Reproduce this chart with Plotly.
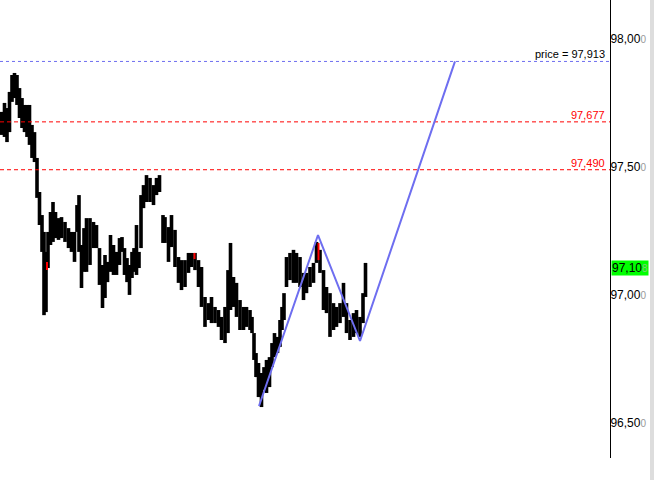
import plotly.graph_objects as go

# ---- price data (bar position, high, low) ----
bar_x = [1.5, 4.5, 7, 9.5, 12, 14.5, 17, 19.5, 22, 24.5, 27, 29.5, 32, 34.5, 37, 39.5, 42, 44, 46, 48,
         50.5, 53, 55.5, 58.5, 61.5, 65, 68.5, 71.5, 74.5, 77, 79, 81.5, 84, 86.5, 90, 93.5, 96.5, 99.5,
         102.5, 105, 107.5, 110.5, 113.5, 116.5, 119.5, 122, 124.5, 127, 129.5, 132, 134, 136.5, 139,
         141, 143.5, 146.5, 150, 153.5, 156.5, 159.5, 163, 165, 168.5, 171.5, 175, 178.5, 181.5, 185,
         188.5, 191.5, 195, 198.5, 201.5, 205, 208.5, 211.5, 215, 218.5, 221.5, 225, 228, 230.5, 233.5,
         236.5, 240, 243.5, 246.5, 250, 252, 254, 256, 258.5, 261.5, 264, 266.5, 269.5, 272, 274.5,
         277.5, 280, 282, 284, 286.5, 290, 293.5, 296.5, 300, 303.5, 306.5, 310, 313.5, 316.5, 320,
         323.5, 326.5, 330, 333.5, 336.5, 340, 343.5, 346.5, 350, 353.5, 356.5, 360, 363, 365.5]
bar_high = [97.716, 97.751, 97.731, 97.794, 97.860, 97.868, 97.860, 97.809, 97.770, 97.743, 97.743, 97.743,
            97.665, 97.637, 97.536, 97.403, 97.313, 97.247, 97.169, 97.247, 97.325, 97.364, 97.325,
            97.301, 97.305, 97.286, 97.262, 97.247, 97.247, 97.352, 97.391, 97.196, 97.262, 97.301,
            97.301, 97.286, 97.274, 97.184, 97.118, 97.157, 97.130, 97.235, 97.196, 97.169, 97.223,
            97.227, 97.184, 97.145, 97.118, 97.169, 97.184, 97.274, 97.169, 97.391, 97.430, 97.469,
            97.458, 97.430, 97.458, 97.469, 97.313, 97.305, 97.266, 97.313, 97.255, 97.149, 97.137,
            97.137, 97.165, 97.165, 97.165, 97.137, 97.110, 96.993, 96.969, 96.993, 96.954, 96.942,
            96.915, 96.954, 97.098, 97.204, 97.071, 97.048, 96.981, 96.954, 96.954, 96.942, 96.915,
            96.852, 96.774, 96.735, 96.696, 96.719, 96.747, 96.758, 96.813, 96.852, 96.837, 96.903,
            96.954, 97.008, 97.149, 97.165, 97.177, 97.165, 97.149, 97.087, 97.087, 97.110, 97.126,
            97.208, 97.177, 97.098, 97.032, 97.008, 96.969, 96.954, 96.969, 97.048, 96.969, 96.903,
            96.930, 96.942, 96.915, 97.008, 97.126]
bar_low = [97.626, 97.618, 97.598, 97.637, 97.755, 97.770, 97.743, 97.692, 97.653, 97.637, 97.618, 97.587,
           97.536, 97.520, 97.380, 97.274, 97.169, 96.922, 96.934, 97.106, 97.196, 97.208, 97.223,
           97.216, 97.223, 97.208, 97.184, 97.169, 97.130, 97.247, 97.169, 97.028, 97.091, 97.091,
           97.118, 97.184, 97.184, 97.040, 96.950, 96.989, 97.051, 97.091, 97.079, 97.079, 97.118,
           97.169, 97.079, 97.051, 97.001, 97.067, 97.091, 97.079, 97.106, 97.184, 97.340, 97.364,
           97.364, 97.352, 97.391, 97.403, 97.204, 97.204, 97.130, 97.188, 97.110, 97.048, 97.020,
           97.032, 97.087, 97.110, 97.098, 97.032, 96.954, 96.876, 96.903, 96.891, 96.891, 96.876,
           96.825, 96.813, 96.852, 96.942, 96.954, 96.915, 96.864, 96.864, 96.876, 96.864, 96.852,
           96.747, 96.680, 96.602, 96.563, 96.630, 96.618, 96.641, 96.719, 96.758, 96.774, 96.798,
           96.864, 96.903, 97.032, 97.059, 97.048, 97.048, 97.032, 96.981, 97.008, 97.032, 97.048,
           97.126, 97.087, 96.942, 96.930, 96.837, 96.864, 96.876, 96.891, 96.915, 96.852, 96.825,
           96.837, 96.852, 96.837, 96.891, 96.993]

# small red markers
red_x = [47, 194.5, 318.5]
red_high = [97.130, 97.165, 97.204]
red_low = [97.098, 97.141, 97.137]

# zigzag pattern
zz_x = [259, 318, 360, 455]
zz_price = [96.567, 97.235, 96.821, 97.913]

# horizontal levels
level_price = 97.913
red_levels = [97.677, 97.490]
red_level_labels = ["97,677", "97,490"]

# axis ticks
tick_vals = [96.5, 97.0, 97.5, 98.0]
tick_main = ["96,50", "97,00", "97,50", "98,00"]
last_price = 97.108
last_label = "97,10"

X_MAX = 610
Y_MIN, Y_MAX = 96.364, 98.153
FONT = "Liberation Sans, Arial, sans-serif"
BLUE = "rgb(110,110,240)"


def segs(xs, hi, lo):
    sx, sy = [], []
    for x, h, l in zip(xs, hi, lo):
        sx += [x, x, None]
        sy += [l, h, None]
    return sx, sy


fig = go.Figure()

px_, py_ = segs(bar_x, bar_high, bar_low)
fig.add_trace(go.Scatter(x=px_, y=py_, mode="lines", line=dict(color="black", width=3.6),
                         hoverinfo="skip", showlegend=False))
rx, ry = segs(red_x, red_high, red_low)
fig.add_trace(go.Scatter(x=rx, y=ry, mode="lines", line=dict(color="red", width=2),
                         hoverinfo="skip", showlegend=False))

# horizontal level lines
fig.add_trace(go.Scatter(x=[0, X_MAX], y=[level_price, level_price], mode="lines",
                         line=dict(color=BLUE, width=1, dash="3px,3px"),
                         hoverinfo="skip", showlegend=False))
for lv in red_levels:
    fig.add_trace(go.Scatter(x=[0, X_MAX], y=[lv, lv], mode="lines",
                             line=dict(color="red", width=1, dash="4px,3px"),
                             hoverinfo="skip", showlegend=False))

fig.add_trace(go.Scatter(x=zz_x, y=zz_price, mode="lines",
                         line=dict(color=BLUE, width=2),
                         hoverinfo="skip", showlegend=False))

ann = []
ann.append(dict(x=607, y=level_price, xref="x", yref="y", xanchor="right", yanchor="bottom",
                text="price = " + f"{level_price:.3f}".replace(".", ","), showarrow=False,
                font=dict(family=FONT, size=11, color="black"), yshift=-1))
for lv, lab in zip(red_levels, red_level_labels):
    ann.append(dict(x=607, y=lv, xref="x", yref="y", xanchor="right", yanchor="bottom",
                    text=lab, showarrow=False, font=dict(family=FONT, size=11, color="red"), yshift=-1))
ann.append(dict(x=611 / 610, y=last_price, xref="paper", yref="y", xanchor="left", yanchor="middle",
                text=last_label + "<span style='color:#7fd07f;font-size:10px'>8</span>", showarrow=False,
                bgcolor="#00ff00", borderpad=0, font=dict(family=FONT, size=12, color="black")))

tick_text = [t + "<span style='color:#999999;font-size:10px'>0</span>" for t in tick_main]

fig.update_layout(
    width=654, height=480,
    margin=dict(l=0, r=44, t=0, b=22),
    paper_bgcolor="white", plot_bgcolor="white",
    xaxis=dict(range=[0, X_MAX], visible=False, fixedrange=True),
    yaxis=dict(range=[Y_MIN, Y_MAX], side="right", showgrid=False, zeroline=False,
               showline=True, linecolor="black", linewidth=1, ticks="",
               tickvals=tick_vals, ticktext=tick_text, fixedrange=True,
               ticklabelstandoff=-3,
               tickfont=dict(family=FONT, size=12, color="black")),
    annotations=ann,
)

# right dotted strip
fig.add_shape(type="rect", xref="paper", yref="paper", x0=650 / 610, x1=654 / 610,
              y0=-22 / 458, y1=1, fillcolor="#dddddd", line=dict(width=0), layer="below")

fig.write_html("out.html", config={"displayModeBar": False},
               post_script="document.body.style.margin='0px';document.body.style.overflow='hidden';")
